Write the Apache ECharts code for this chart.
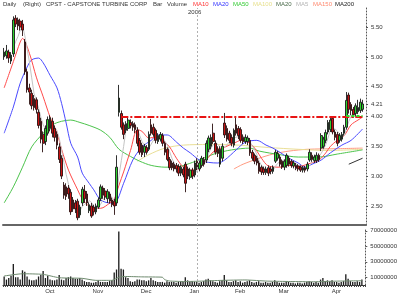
<!DOCTYPE html>
<html><head><meta charset="utf-8">
<script src="https://cdn.jsdelivr.net/npm/echarts@6/dist/echarts.min.js"></script>
<style>html,body{margin:0;padding:0;background:#fff}#c{width:400px;height:299px}</style>
</head><body><div id="c"></div>
<script>
// ---- data ----
const openP  = [5.00,5.02,5.08,4.93,5.05,5.65,5.62,5.60,5.55,5.25,4.75,4.48,4.39,4.30,4.28,4.07,3.92,3.70,3.58,3.72,
3.80,3.92,3.80,3.70,3.49,3.30,2.85,2.82,2.80,2.73,2.60,2.55,2.58,2.35,2.55,2.75,2.70,2.42,2.50,2.48,2.40,
2.48,2.62,2.80,2.75,2.62,2.70,2.60,2.58,2.55,4.07,4.05,3.86,3.77,3.80,3.90,3.88,3.86,3.77,3.60,3.52,3.40,
3.48,3.45,3.86,3.82,3.77,3.58,3.62,3.68,3.55,3.45,3.28,3.22,3.20,3.18,3.16,3.05,3.12,3.20,3.12,2.98,3.10,
3.02,3.25,3.12,3.18,3.28,3.27,3.45,3.50,3.72,3.55,3.45,3.20,3.30,3.89,3.80,3.72,3.65,3.52,3.86,3.80,
3.78,3.65,3.58,3.58,3.60,3.40,3.35,3.30,3.22,3.15,3.12,3.06,3.14,3.12,3.08,3.25,3.30,3.32,3.25,
3.15,3.18,3.30,3.25,3.17,3.18,3.17,3.15,3.10,3.14,3.12,3.27,3.35,3.26,3.26,3.35,3.47,3.50,3.60,3.74,3.78,3.97,3.74,
3.70,3.60,3.62,3.72,3.82,4.36,4.20,4.12,4.05,4.08,4.10,4.12];
const closeP = [5.08,5.10,4.98,5.03,5.62,5.55,5.52,5.50,5.45,4.75,4.45,4.41,4.18,4.15,4.12,3.85,3.62,3.55,3.80,3.95,
3.98,3.72,3.65,3.52,3.28,3.00,2.68,2.66,2.70,2.40,2.45,2.45,2.30,2.48,2.78,2.62,2.55,2.52,2.33,2.40,2.50,
2.60,2.82,2.68,2.65,2.74,2.58,2.52,2.50,3.15,4.31,3.82,3.70,3.88,3.94,3.85,3.82,3.78,3.55,3.40,3.36,3.50,
3.40,3.70,3.72,3.70,3.60,3.68,3.70,3.55,3.40,3.28,3.14,3.14,3.12,3.12,3.05,3.15,3.02,2.88,3.00,3.10,3.00,
3.22,3.15,3.22,3.30,3.20,3.55,3.64,3.65,3.58,3.40,3.38,3.45,3.50,3.69,3.62,3.60,3.55,3.77,3.72,3.68,
3.60,3.58,3.65,3.64,3.39,3.30,3.25,3.22,3.08,3.07,3.06,3.12,3.05,3.08,3.15,3.40,3.38,3.20,3.15,
3.25,3.35,3.20,3.18,3.22,3.13,3.12,3.10,3.14,3.10,3.20,3.40,3.28,3.32,3.35,3.28,3.68,3.62,3.73,3.90,3.94,3.74,3.65,
3.55,3.68,3.70,3.82,4.27,4.12,4.10,4.03,4.18,4.15,4.24,4.21];
const lowP   = [4.95,4.97,4.90,4.88,5.00,5.50,5.45,5.44,5.35,4.70,4.40,4.20,4.12,4.10,4.05,3.80,3.55,3.40,3.52,3.68,
3.75,3.65,3.58,3.45,3.22,2.95,2.62,2.60,2.62,2.35,2.40,2.38,2.26,2.30,2.50,2.55,2.50,2.38,2.30,2.34,2.36,
2.45,2.58,2.62,2.60,2.55,2.54,2.48,2.35,2.50,4.00,3.78,3.62,3.72,3.76,3.80,3.76,3.72,3.50,3.36,3.32,3.32,
3.36,3.42,3.68,3.66,3.55,3.54,3.58,3.50,3.35,3.25,3.10,3.10,3.08,3.06,3.00,3.00,2.98,2.73,2.95,2.94,2.95,
2.98,3.10,3.08,3.14,3.16,3.22,3.40,3.45,3.54,3.36,3.32,3.15,3.25,3.64,3.58,3.55,3.50,3.48,3.68,3.62,
3.56,3.54,3.54,3.52,3.34,3.26,3.20,3.18,3.04,3.02,3.02,3.02,3.00,3.03,3.04,3.22,3.26,3.16,3.12,
3.10,3.14,3.16,3.14,3.13,3.10,3.08,3.07,3.06,3.06,3.08,3.24,3.24,3.22,3.22,3.24,3.42,3.46,3.55,3.70,3.74,3.70,3.60,
3.50,3.56,3.58,3.68,3.78,4.05,4.02,3.98,4.00,4.04,4.06,4.08];
const highP  = [5.15,5.20,5.12,5.08,5.68,5.70,5.66,5.64,5.62,5.30,4.80,4.55,4.45,4.36,4.32,4.12,3.98,3.75,3.85,4.00,
4.02,3.98,3.85,3.75,3.55,3.35,2.90,2.88,2.85,2.78,2.65,2.60,2.62,2.52,2.82,2.85,2.75,2.56,2.55,2.52,2.54,
2.64,2.86,2.84,2.80,2.78,2.74,2.64,2.62,3.35,4.53,4.10,3.90,3.92,3.98,3.95,3.92,3.90,3.82,3.64,3.56,3.54,
3.52,3.75,3.96,3.88,3.80,3.72,3.74,3.72,3.58,3.48,3.32,3.26,3.24,3.22,3.20,3.18,3.16,3.24,3.16,3.14,3.14,
3.26,3.30,3.26,3.34,3.32,3.60,3.68,3.70,3.88,3.60,3.50,3.50,3.55,4.06,3.85,3.76,3.70,3.80,3.98,3.84,
3.82,3.70,3.70,3.68,3.64,3.44,3.38,3.34,3.26,3.18,3.16,3.16,3.18,3.16,3.18,3.44,3.42,3.36,3.28,
3.28,3.38,3.34,3.28,3.26,3.22,3.20,3.18,3.17,3.17,3.24,3.45,3.40,3.36,3.40,3.38,3.72,3.66,3.78,3.94,3.98,4.00,3.78,
3.74,3.72,3.74,3.86,4.41,4.40,4.24,4.16,4.22,4.28,4.30,4.28];
// volume in millions of shares
const volumeM = [11,7,9,12,27,10,10,7,19,17,11,7,6,6,7,11,13,18,9,12,
7,6,6,7,13,7,6,9,10,11,9,8,8,9,7,5,4,4,3,3,4,
6,4,4,4,4,5,6,16,20,69,21,20,10,9,5,4,5,7,7,6,6,
5,6,9,6,5,4,4,4,3,5,4,4,4,3,4,5,4,10,6,4,5,
4,4,3,4,5,7,8,6,5,4,3,5,6,13,6,4,4,5,6,4,
5,3,4,5,6,4,3,4,5,3,3,4,3,3,4,6,4,3,3,
3,5,4,3,3,2,3,3,2,3,4,5,4,3,4,3,7,9,5,6,5,6,4,
4,3,4,5,14,8,5,4,4,5,4,7];
// moving averages: [bar index, value]
const ma10Pts = [[0,4.48],[4,4.92],[7,5.25],[8,5.31],[11,5.06],[14,4.66],[17,4.33],[20,3.99],[23,3.72],[25,3.45],[28,3.1],[32,2.77],[34,2.62],[38,2.47],[42,2.46],[46,2.55],[48,2.62],[50,2.85],[52,3.07],[55,3.43],[58,3.78],[60,3.75],[63,3.64],[66,3.65],[69,3.6],[72,3.49],[75,3.3],[78,3.15],[81,3.1],[85,3.13],[88,3.27],[92,3.44],[95,3.47],[98,3.52],[101,3.57],[103,3.6],[107,3.55],[110,3.42],[112,3.3],[115,3.17],[120,3.15],[124,3.18],[128,3.16],[132,3.2],[137,3.27],[140,3.39],[142,3.5],[145,3.6],[148,3.68],[151,3.86],[154,3.94],[156,3.99]];
const ma20Pts = [[0,3.72],[4,4.16],[7,4.56],[10,4.83],[12,4.95],[15,4.98],[17,4.9],[20,4.69],[23,4.48],[25,4.22],[27,3.89],[29,3.55],[32,3.32],[34,3.05],[37,2.88],[39,2.77],[42,2.6],[46,2.55],[48,2.55],[52,2.88],[56,3.27],[60,3.49],[64,3.6],[67,3.69],[71,3.69],[75,3.57],[78,3.47],[81,3.39],[85,3.27],[89,3.23],[93,3.22],[96,3.27],[101,3.44],[105,3.57],[110,3.6],[114,3.52],[117,3.47],[120,3.4],[124,3.3],[128,3.22],[131,3.15],[134,3.2],[138,3.27],[142,3.39],[147,3.52],[151,3.6],[156,3.79]];
const ma50Pts = [[0,2.55],[4,2.82],[8,3.15],[12,3.49],[17,3.72],[21,3.86],[25,3.92],[29,3.94],[33,3.9],[37,3.85],[42,3.77],[46,3.65],[50,3.45],[55,3.33],[59,3.25],[64,3.18],[70,3.15],[76,3.16],[82,3.23],[88,3.32],[92,3.38],[99,3.44],[107,3.47],[111,3.42],[120,3.36],[128,3.32],[137,3.32],[145,3.37],[156,3.44]];
const ma100Pts = [[58,3.25],[63,3.36],[70,3.47],[78,3.52],[89,3.53],[102,3.52],[115,3.48],[128,3.45],[141,3.43],[156,3.45]];
const ma150Pts = [[100,3.12],[104,3.2],[111,3.3],[117,3.37],[124,3.42],[132,3.45],[145,3.46],[156,3.47]];
const ma200Pts = [[150,3.2],[156,3.3]];
const volMa20Pts = [[0,11.6],[8,14.5],[17,13.7],[24,9.4],[34,8.6],[40,6],[47,6],[50,10],[53,11],[60,10.5],[66,10.3],[69,10],[70,7],[72,5.2],[79,4.5],[86,5],[95,6],[105,6.5],[115,5],[125,4.5],[135,4.2],[145,5],[156,5.5]];
const priceTicks = [2.5,3,3.5,4,4.21,4.5,5,5.5];
const volTicks = [10,30,50,70];
const resistance = 4.00, lastLevel = 4.02;
const monthNames = ['Jan','Feb','Mar','Apr','May','Jun','Jul','Aug','Sep','Oct','Nov','Dec'];
const holidays = ['2005-11-24','2005-12-26','2006-01-02','2006-01-16','2006-02-20','2006-04-14'];

// trading calendar
const dates = [];
for (let t = Date.UTC(2005,8,2); t <= Date.UTC(2006,3,19); t += 86400000) {
  const d = new Date(t), wd = d.getUTCDay(), s = d.toISOString().slice(0,10);
  if (wd !== 0 && wd !== 6 && holidays.indexOf(s) < 0) dates.push(s);
}
const candles = openP.map((o,i)=>[o, closeP[i], lowP[i], highP[i]]);
const ma5 = closeP.map((c,i)=> i<4 ? null : +(closeP.slice(i-4,i+1).reduce((a,b)=>a+b,0)/5).toFixed(3));
const yearIdx = dates.findIndex(d=>d.startsWith('2006'));

const F = 'Liberation Sans, Arial, sans-serif';
const chart = echarts.init(document.getElementById('c'), null, {renderer:'canvas'});
function maLine(name, pts, color, smooth){
  return {name, type:'line', xAxisIndex:0, yAxisIndex:0, data:pts, showSymbol:false, symbol:'none',
    smooth: smooth, connectNulls:true, silent:true, z:1,
    lineStyle:{color, width:1}};
}
const title = [
  ['Daily',3,'#333'],['(Right)',23,'#333'],['CPST - CAPSTONE TURBINE CORP',46,'#333'],['Bar',153,'#333'],['Volume',167,'#333'],
  ['MA10',193,'#ff3333'],['MA20',213,'#3333ff'],['MA50',233,'#33cc33'],['MA100',253,'#e6df8a'],['MA20',276,'#4a6a4a'],
  ['MA5',296,'#b4b4b4'],['MA150',313,'#ff8a70'],['MA200',335,'#222']
];
chart.setOption({
  animation:false,
  backgroundColor:'#fff',
  graphic: title.map(t=>({type:'text', left:t[1], top:1, style:{text:t[0], fill:t[2], font:'6px '+F}}))
    .concat([{type:'text', left:188, top:9, style:{text:'2006', fill:'#333', font:'6px '+F}}]),
  grid:[{left:3, right:34, top:8, height:217},{left:3, right:34, top:228, height:57}],
  xAxis:[
    {type:'category', gridIndex:0, data:dates, boundaryGap:true,
     axisLine:{show:true, lineStyle:{color:'#666', width:2}}, axisTick:{show:false}, axisLabel:{show:false}, splitLine:{show:false}},
    {type:'category', gridIndex:1, data:dates, boundaryGap:true,
     axisLine:{show:true, lineStyle:{color:'#333', width:1}},
     axisTick:{show:true, interval:0, length:2, lineStyle:{color:'#444', width:1}},
     axisLabel:{show:true, fontSize:6, fontFamily:F, color:'#333', margin:3, padding:[0,5,0,0],
       interval:(idx,val)=> idx>0 && val.slice(5,7)!==dates[idx-1].slice(5,7),
       formatter:(val)=>monthNames[+val.slice(5,7)-1]},
     splitLine:{show:false}}
  ],
  yAxis:[
    {type:'value', gridIndex:0, position:'right', min:2.18, max:5.82, scale:true,
     axisLine:{show:true, lineStyle:{color:'#555', type:[1,2]}},
     axisTick:{show:true, length:2, customValues:priceTicks, lineStyle:{color:'#555'}},
     axisLabel:{customValues:priceTicks, formatter:v=>v.toFixed(2), fontSize:6, fontFamily:F, color:'#333', margin:5},
     splitLine:{show:false}},
    {type:'value', gridIndex:1, position:'right', min:0, max:73.6,
     axisLine:{show:true, lineStyle:{color:'#555', type:[1,2]}},
     axisTick:{show:true, length:2, customValues:volTicks, lineStyle:{color:'#555'}},
     axisLabel:{customValues:volTicks, formatter:v=>String(Math.round(v*1000000)), fontSize:6, fontFamily:F, color:'#333', margin:5},
     splitLine:{show:false}}
  ],
  series:[
    maLine('MA150', ma150Pts, '#ff9a80', 0.3),
    maLine('MA100', ma100Pts, '#eadf96', 0.3),
    maLine('MA200', ma200Pts, '#333', 0),
    maLine('MA50', ma50Pts, '#4cc44c', 0.3),
    maLine('MA20', ma20Pts, '#4a4aff', 0.3),
    maLine('MA10', ma10Pts, '#ff4a4a', 0.3),
    {name:'MA5', type:'line', xAxisIndex:0, yAxisIndex:0, data:ma5, showSymbol:false, symbol:'none', silent:true, z:1,
     lineStyle:{color:'#c4c4c4', width:1}},
    {name:'Bar', type:'candlestick', xAxisIndex:0, yAxisIndex:0, data:candles, barWidth:'92%', z:3,
     itemStyle:{color:'#2ed12e', color0:'#c81212', borderColor:'#1a1a1a', borderColor0:'#2a1010', borderWidth:0.9},
     markLine:{silent:true, symbol:['none','none'], label:{show:false}, animation:false,
       data:[
         [{coord:[51,resistance], lineStyle:{color:'#e81414', width:2, type:[7,2,2,2]}},{coord:[156,resistance]}],
         [{coord:[149,lastLevel], lineStyle:{color:'#2ee02e', width:2, type:[3,2]}},{coord:[156,lastLevel]}],
         {xAxis:yearIdx, lineStyle:{color:'#b0b0b0', width:1, type:[2,2]}}
       ]}},
    {name:'Volume', type:'bar', xAxisIndex:1, yAxisIndex:1, data:volumeM, barWidth:'58%',
     itemStyle:{color:'#1c1c1c'},
     markLine:{silent:true, symbol:['none','none'], label:{show:false}, animation:false,
       data:[{xAxis:yearIdx, lineStyle:{color:'#b0b0b0', width:1, type:[2,2]}}]}},
    {name:'VolMA20', type:'line', xAxisIndex:1, yAxisIndex:1, data:volMa20Pts, showSymbol:false, symbol:'none', smooth:0.2, silent:true, z:3,
     lineStyle:{color:'#6e8a6e', width:1}}
  ]
});
</script></body></html>
